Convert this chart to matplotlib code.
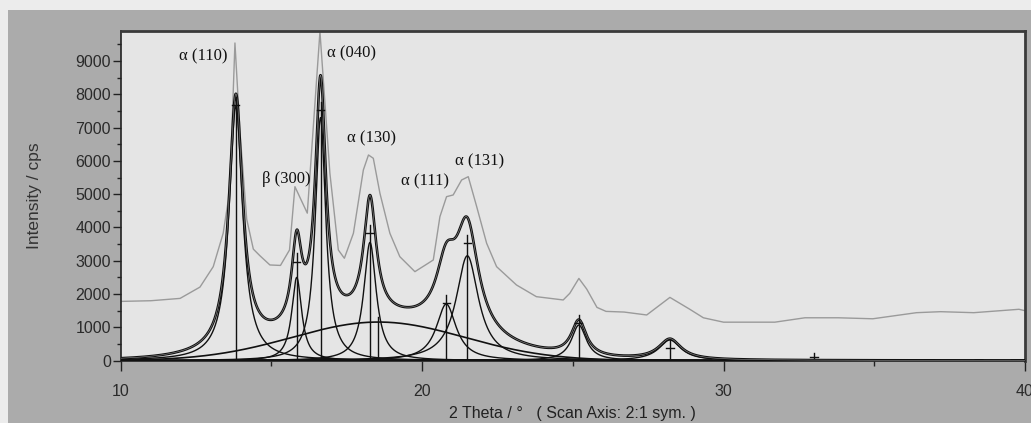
import numpy as np
import matplotlib
matplotlib.use("Agg")
import matplotlib.pyplot as plt
from matplotlib.patches import Rectangle
from matplotlib.ticker import MultipleLocator, FixedLocator

# ---------------- data ----------------
# raw measured pattern (grey curve)
raw_x = [10.0, 11.0, 11.97, 12.63, 13.07, 13.4, 13.57, 13.66, 13.79, 13.96, 14.18, 14.4,
         14.62, 14.95, 15.3, 15.6, 15.78, 16.19, 16.61, 16.94, 17.22, 17.42, 17.72,
         18.05, 18.22, 18.38, 18.6, 18.93, 19.26, 19.76, 20.2, 20.37, 20.59, 20.81,
         21.03, 21.31, 21.53, 21.81, 22.14, 22.47, 23.13, 23.79, 24.68, 24.9, 25.2,
         25.46, 25.8, 26.1, 26.7, 27.45, 28.22, 28.88, 29.33, 30.0, 31.7, 32.7, 33.8,
         34.95, 36.4, 37.2, 38.3, 39.8, 40.0]
raw_y = [1780, 1800, 1870, 2210, 2823, 3826, 4826, 6200, 9540, 6829, 4250, 3350,
         3150, 2874, 2860, 3324, 5225, 4430, 9880, 5627, 3324, 3075, 3826,
         5727, 6177, 6078, 5027, 3826, 3123, 2673, 2925, 3024, 4324, 4925,
         4976, 5426, 5525, 4625, 3525, 2823, 2273, 1922, 1823, 2024, 2470,
         2150, 1600, 1480, 1460, 1372, 1900, 1543, 1288, 1156, 1156, 1288, 1288,
         1258, 1441, 1471, 1441, 1543, 1500]

# fitted crystalline peaks (Lorentzian): centre, height, FWHM
peak_pos = [13.82, 15.84, 16.63, 18.27, 20.80, 21.50, 25.20, 28.22]
peak_height = [7630, 2500, 7300, 3550, 1700, 3150, 1070, 620]
peak_fwhm = [0.55, 0.40, 0.42, 0.50, 0.80, 0.90, 0.60, 0.90]
marker_height = [7680, 2970, 7530, 3830, 1720, 3525, 1130, 380]

# amorphous halo (Gaussian): centre, height, sigma
halo_pos = 18.55
halo_height = 1160
halo_sigma = 2.85
halo_marker = 1320

# small residual marks along the baseline
residual_segments = [(13.3, 29.6), (32.7, 33.4), (36.6, 37.0), (38.3, 38.6), (39.5, 40.0)]
small_mark_pos = 33.0
small_mark_height = 117

# reflection labels
label_text = ["α (110)", "β (300)", "α (040)", "α (130)", "α (111)", "α (131)"]
label_x = [12.74, 15.50, 17.66, 18.33, 20.10, 21.92]
label_y = [9130, 5450, 9230, 6680, 5375, 5976]

x_ticks = [10, 20, 30, 40]
y_ticks = [0, 1000, 2000, 3000, 4000, 5000, 6000, 7000, 8000, 9000]

# ---------------- figure ----------------
W, H = 1031, 423
fig = plt.figure(figsize=(W / 100, H / 100), dpi=100)
fig.patch.set_facecolor("#ababab")
# light bevel strips at top and left edge of the screenshot
fig.add_artist(Rectangle((0, 1 - 10 / H), 1, 10 / H, transform=fig.transFigure,
                         facecolor="#ececec", edgecolor="none", zorder=0))
fig.add_artist(Rectangle((0, 0), 8 / W, 1, transform=fig.transFigure,
                         facecolor="#ececec", edgecolor="none", zorder=0))

left, right, top, bottom = 120.7, 1025, 31, 361
ax = fig.add_axes([left / W, 1 - bottom / H, (right - left) / W, (bottom - top) / H])
ax.set_facecolor("#e5e5e5")

xg = np.linspace(10, 40, 3001)
halo = halo_height * np.exp(-0.5 * ((xg - halo_pos) / halo_sigma) ** 2)
comps = []
for c, h, w in zip(peak_pos, peak_height, peak_fwhm):
    comps.append(h / (1 + ((xg - c) / (w / 2)) ** 2))
fit = halo + np.sum(comps, axis=0)

# raw data
ax.plot(raw_x, raw_y, color="#9a9a9a", lw=1.0, zorder=2)
# components
for comp in comps:
    ax.plot(xg, comp, color="#111111", lw=1.0, zorder=3)
ax.plot(xg, halo, color="#111111", lw=1.2, zorder=3)
# fit sum
ax.plot(xg, fit, color="#111111", lw=1.9, zorder=4)
ax.plot(xg, fit, color="#e5e5e5", lw=0.4, zorder=4, alpha=0.6)

# peak markers
for c, m in zip(peak_pos, marker_height):
    ax.plot([c, c], [0, m + 250], color="#111111", lw=1.0, zorder=4)
    ax.plot([c - 0.12, c + 0.12], [m, m], color="#111111", lw=1.0, zorder=4)
ax.plot([halo_pos, halo_pos], [0, halo_marker], color="#111111", lw=1.0, zorder=4)
ax.plot([small_mark_pos, small_mark_pos], [0, small_mark_height + 100], color="#111111", lw=1.0)
ax.plot([small_mark_pos - 0.12, small_mark_pos + 0.12], [small_mark_height] * 2, color="#111111", lw=1.0)

for a, b in residual_segments:
    ax.plot([a, b], [25, 25], color="#111111", lw=1.8, zorder=3, solid_capstyle="butt")

for t, x, y in zip(label_text, label_x, label_y):
    ax.text(x, y, t, ha="center", va="center", fontsize=12,
            family=["Liberation Serif", "DejaVu Serif"], color="#111111")

ax.set_xlim(10, 40)
ax.set_ylim(-10, 9900)
ax.xaxis.set_major_locator(FixedLocator(x_ticks))
ax.xaxis.set_minor_locator(MultipleLocator(5))
ax.yaxis.set_major_locator(FixedLocator(y_ticks))
ax.yaxis.set_minor_locator(MultipleLocator(500))
ax.tick_params(axis="both", which="major", labelsize=11.5, colors="#222222",
               labelcolor="#2a2a2a", width=1.0)
ax.tick_params(axis="y", which="major", length=6, pad=1)
ax.tick_params(axis="y", which="minor", length=2.6, width=1.0, colors="#222222")
ax.tick_params(axis="x", which="major", length=7, pad=9.5)
ax.tick_params(axis="x", which="minor", length=3.5, width=1.0, colors="#222222")
for lab in ax.get_xticklabels() + ax.get_yticklabels():
    lab.set_family("Liberation Sans")

for s in ["left", "bottom"]:
    ax.spines[s].set_color("#222222")
    ax.spines[s].set_linewidth(1.2)
for s in ["top", "right"]:
    ax.spines[s].set_color("#3a3a3a")
    ax.spines[s].set_linewidth(2.0)

ax.set_ylabel("Intensity / cps", fontsize=12.5, family="Liberation Sans",
              color="#333333", labelpad=24)
ax.set_xlabel("2 Theta / °   ( Scan Axis: 2:1 sym. )", fontsize=11.5,
              family="Liberation Sans", color="#222222", labelpad=5)

fig.savefig("out.png", dpi=100, facecolor=fig.get_facecolor())
